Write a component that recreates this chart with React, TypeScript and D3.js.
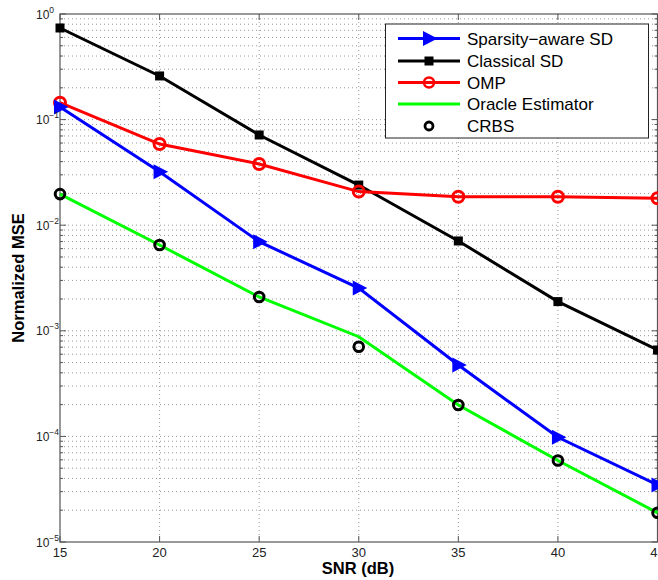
import React from "react";
import * as d3 from "d3";

const snr = [15, 20, 25, 30, 35, 40, 45];
const sparsitySD = [0.1316, 0.0321, 0.00698, 0.00254, 0.000474, 0.000098, 0.0000347];
const classicalSD = [0.737, 0.259, 0.0715, 0.024, 0.00709, 0.00189, 0.000658];
const omp = [0.1445, 0.0587, 0.038, 0.0208, 0.0186, 0.0186, 0.018];
const oracle = [0.0197, 0.00649, 0.00209, 0.000879, 0.000198, 0.0000591, 0.0000189];
const crbs = [0.0197, 0.00649, 0.00209, 0.000707, 0.000198, 0.0000591, 0.0000189];
const xTicks = [15, 20, 25, 30, 35, 40, 45];
const yExps = [0, -1, -2, -3, -4, -5];
const legendLabels = ["Sparsity\u2212aware SD", "Classical SD", "OMP", "Oracle Estimator", "CRBS"];

const W = 658, H = 580;
const L = 60, R = 657.5, T = 14, B = 542;
const font = "'Liberation Sans', Arial, Helvetica, sans-serif";

export default function App() {
  const x = d3.scaleLinear().domain([15, 45]).range([L, R]);
  const y = d3.scaleLog().domain([1e-5, 1]).range([B, T]);
  const line = d3.line<number>().x((_, i) => x(snr[i])).y((d) => y(d));

  const minor: number[] = [];
  for (let e = -5; e < 0; e++) for (let k = 2; k <= 9; k++) minor.push(k * Math.pow(10, e));
  const major = yExps.map((e) => Math.pow(10, e));

  const tri = (cx: number, cy: number, key: string, color: string) => (
    <path key={key} d={`M${cx - 6},${cy - 7.5}L${cx + 8.5},${cy}L${cx - 6},${cy + 7.5}Z`} fill={color} />
  );
  const sq = (cx: number, cy: number, key: string) => (
    <rect key={key} x={cx - 4.5} y={cy - 4.5} width={9} height={9} fill="#000" />
  );

  const gridC = "#999";
  const lx0 = 398, lx1 = 460, lmx = 429, ltx = 467;
  const ly = [38.5, 61, 82.5, 104, 126];

  return (
    <svg width={W} height={H} style={{ position: "absolute", left: 0, top: 0, background: "#fff" }}>
      <rect x={0} y={0} width={W} height={H} fill="#fff" />
      {/* grid */}
      {[...minor, ...major].filter((v) => v < 1 && v > 1e-5).map((v, i) => (
        <line key={"h" + i} x1={L} x2={R} y1={y(v)} y2={y(v)} stroke={gridC} strokeWidth={1} strokeDasharray="1,3" />
      ))}
      {xTicks.slice(1, -1).map((t) => (
        <line key={"v" + t} x1={x(t)} x2={x(t)} y1={T} y2={B} stroke={gridC} strokeWidth={1} strokeDasharray="1,3" />
      ))}
      {/* ticks */}
      {major.map((v, i) => (
        <g key={"mt" + i}>
          <line x1={L} x2={L + 6} y1={y(v)} y2={y(v)} stroke="#555" />
          <line x1={R - 6} x2={R} y1={y(v)} y2={y(v)} stroke="#555" />
        </g>
      ))}
      {minor.map((v, i) => (
        <g key={"nt" + i}>
          <line x1={L} x2={L + 3} y1={y(v)} y2={y(v)} stroke="#555" />
          <line x1={R - 3} x2={R} y1={y(v)} y2={y(v)} stroke="#555" />
        </g>
      ))}
      {xTicks.map((t) => (
        <g key={"xt" + t}>
          <line x1={x(t)} x2={x(t)} y1={B} y2={B - 6} stroke="#555" />
          <line x1={x(t)} x2={x(t)} y1={T} y2={T + 6} stroke="#555" />
        </g>
      ))}
      {/* box */}
      <rect x={L} y={T} width={R - L} height={B - T} fill="none" stroke="#555" strokeWidth={1.2} />
      {/* series */}
      <path d={line(oracle) || ""} fill="none" stroke="#00ff00" strokeWidth={3} />
      <path d={line(classicalSD) || ""} fill="none" stroke="#000" strokeWidth={3} />
      <path d={line(omp) || ""} fill="none" stroke="#ff0000" strokeWidth={3} />
      <path d={line(sparsitySD) || ""} fill="none" stroke="#0000ff" strokeWidth={3} />
      {classicalSD.map((v, i) => sq(x(snr[i]), y(v), "s" + i))}
      {omp.map((v, i) => (
        <circle key={"o" + i} cx={x(snr[i])} cy={y(v)} r={5.5} fill="none" stroke="#ff0000" strokeWidth={3} />
      ))}
      {sparsitySD.map((v, i) => tri(x(snr[i]), y(v), "t" + i, "#0000ff"))}
      {crbs.map((v, i) => (
        <circle key={"c" + i} cx={x(snr[i])} cy={y(v)} r={4.8} fill="none" stroke="#000" strokeWidth={3} />
      ))}
      {/* tick labels */}
      {xTicks.map((t) => (
        <text key={"xl" + t} x={x(t)} y={557} textAnchor="middle" fontFamily={font} fontSize={13} fill="#222">{t}</text>
      ))}
      {yExps.map((e) => (
        <text key={"yl" + e} x={36} y={y(Math.pow(10, e)) + 4.5} textAnchor="start" fontFamily={font} fontSize={12} fill="#222">
          10
          <tspan dy={-6} fontSize={8.5}>{e === 0 ? "0" : "\u2212" + -e}</tspan>
        </text>
      ))}
      {/* axis labels */}
      <text x={358} y={574} textAnchor="middle" fontFamily={font} fontSize={16.5} fontWeight="bold" fill="#000">SNR (dB)</text>
      <g transform={`translate(24,${(T + B) / 2})`}>
        <g transform="rotate(-90)">
          <text x={0} y={0} textAnchor="middle" fontFamily={font} fontSize={16.5} fontWeight="bold" fill="#000">Normalized MSE</text>
        </g>
      </g>
      {/* legend */}
      <rect x={385.5} y={24} width={263} height={114} fill="#fff" stroke="#222" strokeWidth={1} />
      <line x1={lx0} x2={lx1} y1={ly[0]} y2={ly[0]} stroke="#0000ff" strokeWidth={3} />
      {tri(lmx, ly[0], "lt", "#0000ff")}
      <line x1={lx0} x2={lx1} y1={ly[1]} y2={ly[1]} stroke="#000" strokeWidth={3} />
      {sq(lmx, ly[1], "ls")}
      <line x1={lx0} x2={lx1} y1={ly[2]} y2={ly[2]} stroke="#ff0000" strokeWidth={3} />
      <circle cx={lmx} cy={ly[2]} r={5} fill="none" stroke="#ff0000" strokeWidth={2.5} />
      <line x1={lx0} x2={lx1} y1={ly[3]} y2={ly[3]} stroke="#00ff00" strokeWidth={3} />
      <circle cx={lmx} cy={ly[4]} r={4} fill="none" stroke="#000" strokeWidth={2.8} />
      {legendLabels.map((s, i) => (
        <text key={"lg" + i} x={ltx} y={ly[i] + 6} fontFamily={font} fontSize={17} fill="#000">{s}</text>
      ))}
    </svg>
  );
}
